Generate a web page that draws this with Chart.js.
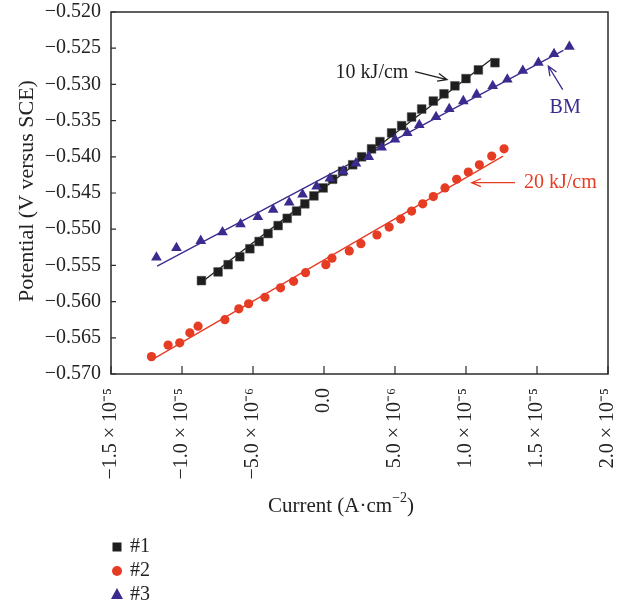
<!DOCTYPE html>
<html>
<head>
<meta charset="utf-8">
<script src="https://cdn.jsdelivr.net/npm/chart.js@4.4.0/dist/chart.umd.min.js"></script>
<style>
  body { margin: 0; background: #fff; }
</style>
</head>
<body>
<canvas id="chart" width="623" height="607"></canvas>
<script>
// current in units of 1e-6 A/cm2, potential in V vs SCE
const cur1 = [-8.63, -7.46, -6.75, -5.93, -5.22, -4.57, -3.94, -3.23, -2.59, -1.93, -1.35, -0.71, -0.06, 0.61, 1.31, 2.02, 2.65, 3.35, 3.94, 4.76, 5.47, 6.17, 6.88, 7.70, 8.45, 9.22, 10.00, 10.87, 12.04];
const pot1 = [-0.5571, -0.5559, -0.5549, -0.5538, -0.5527, -0.5517, -0.5506, -0.5495, -0.5485, -0.5475, -0.5465, -0.5454, -0.5443, -0.5431, -0.5420, -0.5411, -0.5400, -0.5389, -0.5379, -0.5367, -0.5357, -0.5345, -0.5334, -0.5323, -0.5313, -0.5302, -0.5292, -0.5280, -0.5270];

const cur2 = [-12.15, -10.98, -10.16, -9.45, -8.87, -6.98, -6.00, -5.31, -4.16, -3.06, -2.14, -1.30, 0.13, 0.56, 1.78, 2.60, 3.73, 4.59, 5.40, 6.17, 6.95, 7.70, 8.52, 9.34, 10.16, 10.94, 11.81, 12.68];
const pot2 = [-0.5676, -0.5660, -0.5657, -0.5643, -0.5634, -0.5625, -0.5610, -0.5603, -0.5594, -0.5581, -0.5572, -0.5560, -0.5549, -0.5540, -0.5530, -0.5520, -0.5508, -0.5497, -0.5486, -0.5475, -0.5465, -0.5455, -0.5443, -0.5431, -0.5421, -0.5411, -0.5399, -0.5389];

const cur3 = [-11.80, -10.39, -8.68, -7.15, -5.88, -4.66, -3.58, -2.45, -1.51, -0.52, 0.42, 1.35, 2.25, 3.15, 4.06, 5.00, 5.86, 6.71, 7.89, 8.82, 9.81, 10.75, 11.88, 12.91, 14.00, 15.10, 16.20, 17.28];
const pot3 = [-0.5539, -0.5526, -0.5516, -0.5504, -0.5493, -0.5483, -0.5473, -0.5463, -0.5452, -0.5441, -0.5430, -0.5420, -0.5409, -0.5400, -0.5387, -0.5376, -0.5367, -0.5356, -0.5345, -0.5334, -0.5323, -0.5314, -0.5302, -0.5293, -0.5281, -0.5270, -0.5258, -0.5248];

// fitted lines (end points)
const fit1X = [-8.87, 11.81], fit1Y = [-0.5577, -0.5265];
const fit2X = [-11.92, 12.61], fit2Y = [-0.5678, -0.5399];
const fit3X = [-11.75, 16.86], fit3Y = [-0.5551, -0.5253];

const seriesNames = ['#1', '#2', '#3'];
const xTickLabels = ['\u22121.5 \u00d7 10\u207b\u2075', '\u22121.0 \u00d7 10\u207b\u2075', '\u22125.0 \u00d7 10\u207b\u2076', '0.0',
  '5.0 \u00d7 10\u207b\u2076', '1.0 \u00d7 10\u207b\u2075', '1.5 \u00d7 10\u207b\u2075', '2.0 \u00d7 10\u207b\u2075'];
const yTickLabels = ['\u22120.570', '\u22120.565', '\u22120.560', '\u22120.555', '\u22120.550', '\u22120.545',
  '\u22120.540', '\u22120.535', '\u22120.530', '\u22120.525', '\u22120.520'];

const BLACK = '#1e1e1e', RED = '#e63c23', PURPLE = '#3b2b8f';
const FONT = '"Liberation Serif", "Times New Roman", serif';

const pts = (xs, ys) => xs.map((x, i) => ({x: x, y: ys[i]}));

const decor = {
  id: 'decor',
  afterDraw(chart) {
    const ctx = chart.ctx, a = chart.chartArea;
    const sx = chart.scales.x, sy = chart.scales.y;
    const X = v => sx.getPixelForValue(v), Y = v => sy.getPixelForValue(v);
    ctx.save();
    // frame
    ctx.strokeStyle = '#2b2b2b';
    ctx.lineWidth = 1.5;
    ctx.strokeRect(a.left, a.top, a.right - a.left, a.bottom - a.top);
    // inward ticks
    ctx.beginPath();
    sx.ticks.forEach(t => { const p = X(t.value); ctx.moveTo(p, a.bottom); ctx.lineTo(p, a.bottom - 8); });
    sy.ticks.forEach(t => { const p = Y(t.value); ctx.moveTo(a.left, p); ctx.lineTo(a.left + 5, p); });
    ctx.lineWidth = 1.2;
    ctx.stroke();

    // axis titles
    ctx.fillStyle = '#222';
    ctx.textBaseline = 'middle';
    const t1 = 'Current (A\u00b7cm', t2 = '\u22122', t3 = ')';
    ctx.font = '21px ' + FONT; const w1 = ctx.measureText(t1).width, w3 = ctx.measureText(t3).width;
    ctx.font = '14px ' + FONT; const w2 = ctx.measureText(t2).width;
    let xs = 341 - (w1 + w2 + w3) / 2;
    ctx.textAlign = 'left';
    ctx.font = '21px ' + FONT; ctx.fillText(t1, xs, 506);
    ctx.font = '14px ' + FONT; ctx.fillText(t2, xs + w1, 498);
    ctx.font = '21px ' + FONT; ctx.fillText(t3, xs + w1 + w2, 506);

    ctx.save();
    ctx.translate(27, 191);
    ctx.rotate(-Math.PI / 2);
    ctx.textAlign = 'center';
    ctx.font = '22px ' + FONT;
    ctx.fillText('Potential (V versus SCE)', 0, 0);
    ctx.restore();

    // annotations
    const arrow = (x1, y1, x2, y2, col) => {
      const ang = Math.atan2(y2 - y1, x2 - x1), h = 10;
      ctx.strokeStyle = col; ctx.lineWidth = 1.3;
      ctx.beginPath();
      ctx.moveTo(x1, y1); ctx.lineTo(x2, y2);
      ctx.moveTo(x2 - h * Math.cos(ang - 0.4), y2 - h * Math.sin(ang - 0.4));
      ctx.lineTo(x2, y2);
      ctx.lineTo(x2 - h * Math.cos(ang + 0.4), y2 - h * Math.sin(ang + 0.4));
      ctx.stroke();
    };
    ctx.font = '20px ' + FONT;
    ctx.textAlign = 'center';
    ctx.fillStyle = BLACK;
    ctx.fillText('10 kJ/cm', X(3.38), Y(-0.52836));
    arrow(X(6.41), Y(-0.52822), X(8.66), Y(-0.52933), BLACK);
    ctx.fillStyle = PURPLE;
    ctx.fillText('BM', X(16.98), Y(-0.5332));
    arrow(X(16.81), Y(-0.53071), X(15.80), Y(-0.52749), PURPLE);
    ctx.fillStyle = RED;
    ctx.textAlign = 'left';
    ctx.fillText('20 kJ/cm', X(14.08), Y(-0.54357));
    arrow(X(13.45), Y(-0.54357), X(10.40), Y(-0.54357), RED);

    // legend
    const rows = [547, 571, 595];
    ctx.font = '20px ' + FONT;
    ctx.fillStyle = BLACK;
    ctx.fillRect(117 - 4.5, rows[0] - 4.5, 9, 9);
    ctx.fillStyle = RED;
    ctx.beginPath(); ctx.arc(117, rows[1], 5, 0, Math.PI * 2); ctx.fill();
    ctx.fillStyle = PURPLE;
    ctx.beginPath(); ctx.moveTo(117, rows[2] - 7); ctx.lineTo(123, rows[2] + 4); ctx.lineTo(111, rows[2] + 4); ctx.closePath(); ctx.fill();
    ctx.fillStyle = '#222';
    ctx.textAlign = 'left';
    seriesNames.forEach((n, i) => ctx.fillText(n, 130, rows[i]));
    ctx.restore();
  }
};

new Chart(document.getElementById('chart'), {
  type: 'scatter',
  data: {
    datasets: [
      {label: seriesNames[0], data: pts(cur1, pot1), pointStyle: 'rect', pointRadius: 6.2, backgroundColor: BLACK, borderColor: '#555', borderWidth: 0.5, order: 2},
      {label: seriesNames[1], data: pts(cur2, pot2), pointStyle: 'circle', pointRadius: 4.6, backgroundColor: RED, borderColor: RED, borderWidth: 0, order: 3},
      {label: seriesNames[2], data: pts(cur3, pot3), pointStyle: 'triangle', pointRadius: 6.2, backgroundColor: PURPLE, borderColor: PURPLE, borderWidth: 0, order: 1},
      {type: 'line', data: pts(fit1X, fit1Y), borderColor: BLACK, borderWidth: 1.3, pointRadius: 0, order: 5},
      {type: 'line', data: pts(fit2X, fit2Y), borderColor: RED, borderWidth: 1.3, pointRadius: 0, order: 6},
      {type: 'line', data: pts(fit3X, fit3Y), borderColor: PURPLE, borderWidth: 1.3, pointRadius: 0, order: 4}
    ]
  },
  options: {
    responsive: false,
    animation: false,
    devicePixelRatio: 1,
    layout: {padding: {top: 12, right: 15, bottom: 0, left: 0}},
    plugins: {legend: {display: false}, tooltip: {enabled: false}},
    scales: {
      x: {
        type: 'linear', min: -15, max: 20,
        grid: {display: false, drawTicks: false},
        border: {display: false},
        afterFit: s => { s.height = 233; s.paddingLeft = 0; s.paddingRight = 0; },
        ticks: {
          stepSize: 5, autoSkip: false, minRotation: 90, maxRotation: 90, padding: 14,
          color: '#222', font: {family: FONT, size: 20},
          callback: (v, i) => xTickLabels[i]
        }
      },
      y: {
        type: 'linear', min: -0.570, max: -0.520,
        grid: {display: false, drawTicks: false},
        border: {display: false},
        afterFit: s => { s.width = 111; s.paddingTop = 0; s.paddingBottom = 0; },
        ticks: {
          stepSize: 0.005, padding: 10,
          color: '#222', font: {family: FONT, size: 20},
          callback: (v, i) => yTickLabels[i]
        }
      }
    }
  },
  plugins: [decor]
});
</script>
</body>
</html>
